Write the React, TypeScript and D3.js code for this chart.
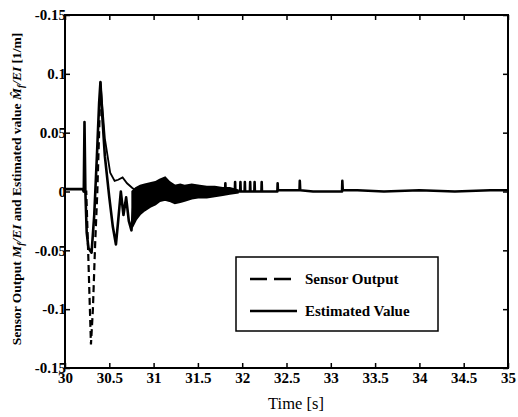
import React, { useEffect, useRef } from 'react'
import * as d3 from 'd3'

// Axis ticks (the top label reads "-0.15" in the original figure)
const xTicks = [30, 30.5, 31, 31.5, 32, 32.5, 33, 33.5, 34, 34.5, 35]
const yTicks = [0.15, 0.1, 0.05, 0, -0.05, -0.1, -0.15]
const yTickLabels = ['-0.15', '0.1', '0.05', '0', '-0.05', '-0.1', '-0.15']

// Sensor output (dashed), the deep dip after the impact
const sensorTime = [30.2, 30.24, 30.265, 30.293, 30.315, 30.34, 30.365, 30.385, 30.4]
const sensorValue = [0.0, 0.0, -0.06, -0.13, -0.1, -0.045, 0.0, 0.05, 0.09]

// Estimated value (solid)
const estTime = [
  30.0, 30.1, 30.2, 30.212, 30.22, 30.23, 30.245, 30.265, 30.3, 30.33, 30.36, 30.385, 30.4,
  30.42, 30.45, 30.5, 30.54, 30.575, 30.6, 30.63, 30.66, 30.69, 30.72, 30.75, 30.78, 30.8,
  30.85, 30.9, 31.0, 31.13, 31.3, 31.5, 31.7,
  31.807, 31.81, 31.813, 31.917, 31.92, 31.923, 31.977, 31.98, 31.983,
  32.027, 32.03, 32.033, 32.087, 32.09, 32.093, 32.137, 32.14, 32.143,
  32.217, 32.22, 32.223, 32.397, 32.4, 32.403, 32.647, 32.65, 32.655,
  32.8, 33.0, 33.127, 33.13, 33.135, 33.3, 33.6, 34.0, 34.4, 34.8, 35.0
]
const estValue = [
  0.002, 0.002, 0.002, 0.0, 0.059, 0.0, -0.035, -0.048, -0.052, -0.02, 0.03, 0.075, 0.093,
  0.065, 0.03, -0.005, -0.03, -0.045, -0.025, 0.0, -0.02, -0.005, -0.025, -0.033, -0.005, -0.015,
  -0.008, -0.002, 0.0, 0.003, -0.002, 0.0, 0.0,
  0.0, 0.007, 0.0, 0.0, 0.008, 0.0, 0.0, 0.008, 0.0,
  0.0, 0.008, 0.0, 0.0, 0.008, 0.0, 0.0, 0.008, 0.0,
  0.0, 0.008, 0.0, 0.0, 0.007, 0.001, 0.001, 0.009, 0.001,
  0.0, 0.0, 0.0, 0.009, 0.001, 0.001, 0.0, 0.001, 0.0, 0.001, 0.001
]

// Thin trace leaving the main peak
const traceTime = [30.4, 30.45, 30.51, 30.56, 30.6, 30.65, 30.7, 30.76, 30.82]
const traceValue = [0.093, 0.045, 0.016, 0.009, 0.01, 0.012, 0.007, 0.003, 0.0]

// Dense oscillation band (upper / lower envelope)
const bandTime = [30.76, 30.8, 30.85, 30.9, 30.96, 31.02, 31.07, 31.13, 31.18, 31.24, 31.3, 31.35, 31.43, 31.52, 31.6, 31.69, 31.78, 31.86, 31.95]
const bandUpper = [0.0, 0.003, 0.005, 0.006, 0.007, 0.008, 0.01, 0.012, 0.008, 0.005, 0.006, 0.005, 0.006, 0.005, 0.004, 0.004, 0.003, 0.003, 0.001]
const bandLower = [-0.03, -0.024, -0.019, -0.016, -0.013, -0.011, -0.008, -0.007, -0.008, -0.01, -0.009, -0.008, -0.006, -0.005, -0.005, -0.004, -0.003, -0.002, -0.001]

const legendItems = ['Sensor Output', 'Estimated Value']

const width = 518
const height = 417
const margin = { top: 15, right: 10, bottom: 49, left: 65 }

const App = () => {
  const svgRef = useRef(null)

  useEffect(() => {
    const svg = d3.select(svgRef.current)
    svg.selectAll('*').remove()

    const x = d3.scaleLinear().domain([30, 35]).range([margin.left, width - margin.right])
    const y = d3.scaleLinear().domain([-0.15, 0.15]).range([height - margin.bottom, margin.top])
    const font = '"Liberation Serif", "Times New Roman", serif'

    const line = d3.line<[number, number]>().x(d => x(d[0])).y(d => y(d[1]))

    // band
    const band = bandTime.map((t, i) => ({ t, hi: bandUpper[i], lo: bandLower[i] }))
    svg.append('path')
      .attr('d', d3.area<any>().x(d => x(d.t)).y0(d => y(d.lo)).y1(d => y(d.hi))(band))
      .attr('fill', '#000')
      .attr('stroke', '#000')
      .attr('stroke-width', 2)

    svg.append('path')
      .attr('d', line(traceTime.map((t, i) => [t, traceValue[i]])))
      .attr('fill', 'none').attr('stroke', '#000').attr('stroke-width', 1.8)

    svg.append('path')
      .attr('d', line(estTime.map((t, i) => [t, estValue[i]])))
      .attr('fill', 'none').attr('stroke', '#000').attr('stroke-width', 2.6)
      .attr('stroke-linejoin', 'round')

    svg.append('path')
      .attr('d', line(sensorTime.map((t, i) => [t, sensorValue[i]])))
      .attr('fill', 'none').attr('stroke', '#000').attr('stroke-width', 2.2)
      .attr('stroke-dasharray', '7,4')

    // frame
    svg.append('rect')
      .attr('x', x(30)).attr('y', y(0.15))
      .attr('width', x(35) - x(30)).attr('height', y(-0.15) - y(0.15))
      .attr('fill', 'none').attr('stroke', '#000').attr('stroke-width', 2)

    // axes with inward ticks
    const bottom = svg.append('g')
      .attr('transform', `translate(0, ${y(-0.15)})`)
      .call(d3.axisBottom(x).tickValues(xTicks).tickSizeInner(-5).tickSizeOuter(0).tickPadding(4).tickFormat(d => String(d)))
    const top = svg.append('g')
      .attr('transform', `translate(0, ${y(0.15)})`)
      .call(d3.axisTop(x).tickValues(xTicks).tickSizeInner(-5).tickSizeOuter(0).tickFormat(() => ''))
    const left = svg.append('g')
      .attr('transform', `translate(${x(30)}, 0)`)
      .call(d3.axisLeft(y).tickValues(yTicks).tickSizeInner(-5).tickSizeOuter(0).tickPadding(-1)
        .tickFormat((d, i) => yTickLabels[i]))
    const right = svg.append('g')
      .attr('transform', `translate(${x(35)}, 0)`)
      .call(d3.axisRight(y).tickValues(yTicks).tickSizeInner(-5).tickSizeOuter(0).tickFormat(() => ''))

    ;[bottom, top, left, right].forEach(g => {
      g.select('.domain').remove()
      g.selectAll('line').attr('stroke', '#000').attr('stroke-width', 1.5)
    })
    bottom.selectAll('text')
      .style('font-family', font).style('font-size', '15px').style('font-weight', 'bold').attr('fill', '#000')
    left.selectAll('text')
      .style('font-family', font).style('font-size', '15px').style('font-weight', 'bold').attr('fill', '#000')

    // axis titles
    svg.append('text')
      .attr('x', 296).attr('y', 409)
      .attr('text-anchor', 'middle')
      .style('font-family', font).style('font-size', '16.5px')
      .text('Time [s]')

    const yl = svg.append('text')
      .attr('transform', `translate(21, 189) rotate(-90)`)
      .attr('text-anchor', 'middle')
      .style('font-family', font).style('font-size', '13.5px').style('font-weight', 'bold')
    yl.append('tspan').text('Sensor Output ')
    yl.append('tspan').style('font-style', 'italic').text('M')
    yl.append('tspan').attr('dy', 3).style('font-size', '9.5px').style('font-style', 'italic').text('f')
    yl.append('tspan').attr('dy', -3).style('font-style', 'italic').text('/EI')
    yl.append('tspan').text(' and Estimated value ')
    yl.append('tspan').style('font-style', 'italic').text('M\u0302')
    yl.append('tspan').attr('dy', 3).style('font-size', '9.5px').style('font-style', 'italic').text('f')
    yl.append('tspan').attr('dy', -3).style('font-style', 'italic').text('/EI')
    yl.append('tspan').text(' [1/m]')

    // legend
    const lg = svg.append('g').attr('transform', 'translate(236, 257)')
    lg.append('rect')
      .attr('width', 202).attr('height', 74)
      .attr('fill', '#fff').attr('stroke', '#000').attr('stroke-width', 1.5)
    legendItems.forEach((name, i) => {
      const yy = 22 + i * 32
      lg.append('line')
        .attr('x1', 14).attr('x2', 61).attr('y1', yy).attr('y2', yy)
        .attr('stroke', '#000').attr('stroke-width', 2.5)
        .attr('stroke-dasharray', i === 0 ? '17,7' : null)
      lg.append('text')
        .attr('x', 69).attr('y', yy + 5)
        .style('font-family', font).style('font-size', '15px').style('font-weight', 'bold')
        .text(name)
    })
  }, [])

  return (
    <svg ref={svgRef} width={width} height={height}
      style={{ position: 'absolute', left: 0, top: 0, background: '#fff' }} />
  )
}

export default App
